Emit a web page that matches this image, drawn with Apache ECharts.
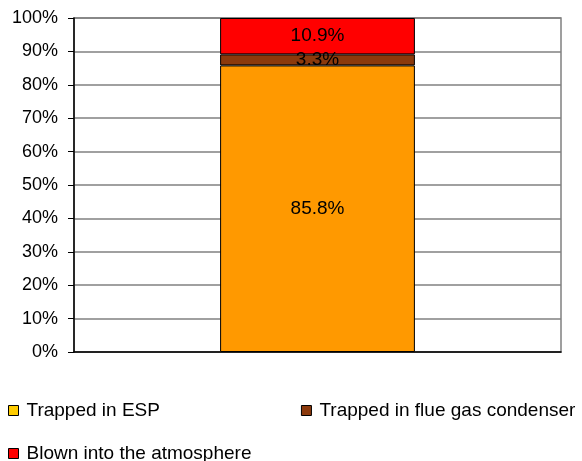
<!DOCTYPE html>
<html>
<head>
<meta charset="utf-8">
<script src="https://cdn.jsdelivr.net/npm/echarts@6/dist/echarts.min.js"></script>
<style>
  html, body { margin: 0; padding: 0; background: #fff; }
  #chart { width: 582px; height: 461px; }
</style>
</head>
<body>
<div id="chart"></div>
<script>
// Fate of the fly ash, share in percent (one stacked column)
const categories = [''];
const seriesNames = ['Trapped in ESP', 'Trapped in flue gas condenser', 'Blown into the atmosphere'];
const trappedEsp = [85.8];
const trappedCondenser = [3.3];
const blownOut = [10.9];
const yTicks = [0, 10, 20, 30, 40, 50, 60, 70, 80, 90, 100];

const FONT = "'Liberation Sans', Arial, sans-serif";
const barColors = ['#FF9900', '#8C3A0C', '#FF0000'];
const legendColors = ['#FFCC00', '#8C3A0C', '#FF0000'];
const values = [trappedEsp, trappedCondenser, blownOut];

const chart = echarts.init(document.getElementById('chart'), null, { renderer: 'canvas' });

function legendItem(i) {
  return {
    name: seriesNames[i],
    itemStyle: { color: legendColors[i], borderColor: '#000', borderWidth: 1 }
  };
}

const legendCommon = {
  orient: 'horizontal',
  icon: 'rect',
  itemWidth: 10,
  itemHeight: 10,
  selectedMode: false,
  textStyle: { fontFamily: FONT, fontSize: 19, color: '#000', padding: [0, 0, 0, 3] }
};

chart.setOption({
  animation: false,
  backgroundColor: '#fff',
  grid: {
    left: 74, right: 21, top: 18, bottom: 109,
    show: true, borderColor: '#808080', borderWidth: 1.5, backgroundColor: 'transparent'
  },
  legend: [
    Object.assign({}, legendCommon, {
      left: 3, top: 396, itemGap: 141,
      data: [legendItem(0), legendItem(1)]
    }),
    Object.assign({}, legendCommon, {
      left: 3, top: 439,
      data: [legendItem(2)]
    })
  ],
  xAxis: {
    type: 'category',
    data: categories,
    axisLine: { show: true, lineStyle: { color: '#000', width: 1.5 } },
    axisTick: { show: false },
    axisLabel: { show: false },
    splitLine: { show: false }
  },
  yAxis: {
    type: 'value',
    min: yTicks[0],
    max: yTicks[yTicks.length - 1],
    interval: yTicks[1] - yTicks[0],
    axisLine: { show: true, lineStyle: { color: '#000', width: 1.5 } },
    axisTick: { show: true, length: 6, lineStyle: { color: '#000' } },
    axisLabel: {
      formatter: '{value}%', color: '#000', fontFamily: FONT, fontSize: 18, margin: 16
    },
    splitLine: { show: true, lineStyle: { color: '#808080', width: 1.5 } }
  },
  series: seriesNames.map((name, i) => ({
    name: name,
    type: 'bar',
    stack: 'total',
    barWidth: '40%',
    data: values[i],
    itemStyle: { color: barColors[i], borderColor: '#000', borderWidth: 1 },
    label: {
      show: true,
      position: 'inside',
      formatter: p => p.value.toFixed(1) + '%',
      color: '#000',
      fontFamily: FONT,
      fontSize: 19,
      textBorderWidth: 0
    }
  }))
});
</script>
</body>
</html>
